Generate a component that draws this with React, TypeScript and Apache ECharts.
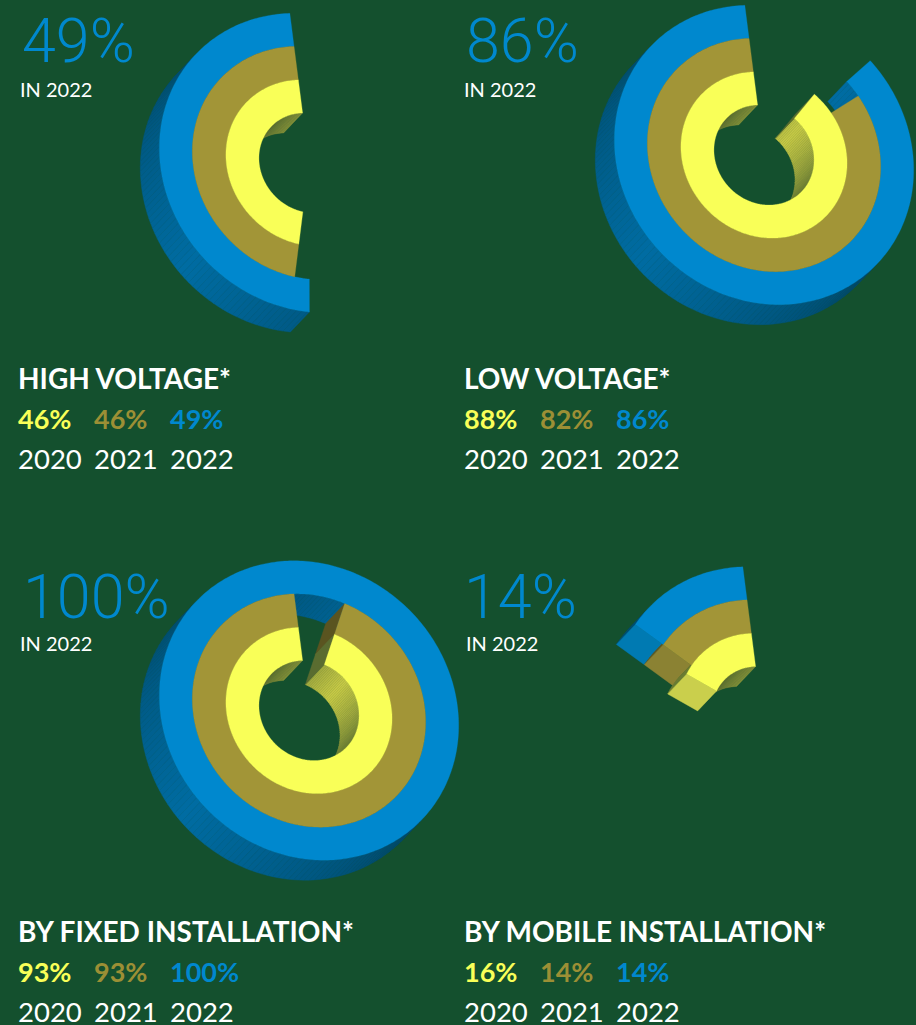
import React, { useEffect, useRef } from "react";
import * as echarts from "echarts";

const years = ["2020", "2021", "2022"];
const titles = ["HIGH VOLTAGE*", "LOW VOLTAGE*", "BY FIXED INSTALLATION*", "BY MOBILE INSTALLATION*"];
const highVoltage = [46, 46, 49];
const lowVoltage = [88, 82, 86];
const fixedInstallation = [93, 93, 100];
const mobileInstallation = [16, 14, 14];
const panelValues = [highVoltage, lowVoltage, fixedInstallation, mobileInstallation];
// Arc lengths as measured in the picture, which differ slightly from the printed labels.
const highVoltageArc = [46, 46, 48];
const lowVoltageArc = [87.6, 83, 85.4];
const fixedInstallationArc = [93, 93, 100];
const mobileInstallationArc = [16, 14, 14];
const panelArcs = [highVoltageArc, lowVoltageArc, fixedInstallationArc, mobileInstallationArc];

const centers = [[309, 163], [764, 155], [309, 710.5], [762, 716.5]];
const bigPos = [[22, 66], [466, 66], [23, 622], [464, 622]];
const inPos = [[20, 97], [464, 97], [20, 651], [466, 651]];
const textLeft = [17, 463, 17, 463];
const rowBase = [0, 0, 553, 553];
const colStep = 76;

const BG = "#14502e";
const YELLOW = "#f9ff58";
const OLIVE = "#a29537";
const BLUE = "#0088ce";
const topColors = [YELLOW, OLIVE, BLUE];
const darkColors = ["#5a6c30", "#5a5420", "#004a6c"];
const midColors = ["#c8ca46", "#857c30", "#006ca2"];
const faceColors = ["#d2d64e", "#8b8233", "#007ab2"];
const radii = [50, 83, 116.5, 149.5];
const START = 4.5;
const SHEAR = 0.05;
const DX = -19;
const DY = 20;
const FONT = "Lato, 'Open Sans', sans-serif";

const rad = (d: number) => (d * Math.PI) / 180;
const hex = (h: string) => [1, 3, 5].map((i) => parseInt(h.slice(i, i + 2), 16));
const mix = (a: string, b: string, t: number) => {
  const x = hex(a);
  const y = hex(b);
  return `rgb(${x.map((v, i) => Math.round(v + (y[i] - v) * t)).join(",")})`;
};
const project = (c: number[], a: number, r: number) => {
  const x = -Math.sin(rad(a)) * r;
  const y = -Math.cos(rad(a)) * r;
  return [c[0] + x + SHEAR * y, c[1] + SHEAR * x + y];
};
const arcAngles = (a0: number, a1: number, step: number) => {
  const out: number[] = [];
  for (let a = a0; a < a1; a += step) out.push(a);
  out.push(a1);
  return out;
};
const facing = (nx: number, ny: number) => {
  const len = Math.hypot(DX, DY);
  return (nx * DX + ny * DY) / len;
};
const shade = (nx: number, ny: number) => {
  const peak = Math.atan2(0.64, -0.77);
  let d = Math.abs(Math.atan2(ny, nx) - peak);
  if (d > Math.PI) d = 2 * Math.PI - d;
  return Math.max(0, 1 - d / (Math.PI / 2));
};

function wallItem(c: number[]) {
  return (_p: any, api: any) => {
    const ring = api.value(0);
    const value = api.value(1);
    const a1 = START + value * 3.6;
    const children: any[] = [];
    const quad = (pts: number[][], fill: string) =>
      children.push({
        type: "polygon",
        silent: true,
        shape: { points: pts },
        style: { fill, stroke: fill, lineWidth: 0.4 },
      });
    const angles = arcAngles(START, a1, 2);
    const strip = (r: number, sign: number) => {
      for (let i = 0; i < angles.length - 1; i++) {
        const m = (angles[i] + angles[i + 1]) / 2;
        const nx = -Math.sin(rad(m)) * sign;
        const ny = -Math.cos(rad(m)) * sign;
        if (facing(nx, ny) <= 0) continue;
        const p = project(c, angles[i], r);
        const q = project(c, angles[i + 1], r);
        quad(
          [p, q, [q[0] + DX, q[1] + DY], [p[0] + DX, p[1] + DY]],
          mix(darkColors[ring], midColors[ring], shade(nx, ny))
        );
      }
    };
    strip(radii[ring + 1], 1);
    strip(radii[ring], -1);
    if (value < 100) {
      const nx = -Math.cos(rad(a1));
      const ny = Math.sin(rad(a1));
      if (facing(nx, ny) > 0) {
        const p = project(c, a1, radii[ring]);
        const q = project(c, a1, radii[ring + 1]);
        const d = Math.abs(Math.atan2(ny, nx) - Math.atan2(0.64, -0.77));
        quad(
          [p, q, [q[0] + DX, q[1] + DY], [p[0] + DX, p[1] + DY]],
          mix(darkColors[ring], faceColors[ring], Math.max(0, 1 - Math.max(0, d - 0.25) / 2.2))
        );
      }
    }
    return { type: "group", children };
  };
}

function topItem(c: number[]) {
  return (_p: any, api: any) => {
    const ring = api.value(0);
    const value = api.value(1);
    const a1 = START + value * 3.6;
    const angles = arcAngles(START, a1, 1);
    const pts = [
      ...angles.map((a) => project(c, a, radii[ring + 1])),
      ...angles.slice().reverse().map((a) => project(c, a, radii[ring])),
    ];
    return {
      type: "polygon",
      silent: true,
      shape: { points: pts },
      style: { fill: topColors[ring], stroke: topColors[ring], lineWidth: 0.3 },
    };
  };
}

function textEl(text: string, x: number, y: number, fill: string, size: number, weight: number, family = FONT) {
  return {
    type: "text",
    x,
    y: y + size * 0.09,
    z: 10,
    silent: true,
    style: { text, fill, fontSize: size, fontWeight: weight, fontFamily: family, verticalAlign: "bottom" },
  };
}

export default function App() {
  const ref = useRef<HTMLDivElement>(null);
  useEffect(() => {
    document.body.style.margin = "0";
    document.body.style.background = BG;
    const chart = echarts.init(ref.current!, undefined, { renderer: "svg" });
    const series: any[] = [];
    const graphic: any[] = [];
    panelValues.forEach((vals, p) => {
      const data = [2, 1, 0].map((i) => [i, panelArcs[p][i]]);
      series.push({
        type: "custom",
        name: titles[p] + " walls",
        coordinateSystem: "none",
        renderItem: wallItem(centers[p]),
        data,
        z: 2,
        silent: true,
      });
      series.push({
        type: "custom",
        name: titles[p],
        coordinateSystem: "none",
        renderItem: topItem(centers[p]),
        data,
        z: 3,
        silent: true,
      });
      graphic.push(textEl(`${vals[2]}%`, bigPos[p][0], bigPos[p][1], BLUE, 61, 300, "Roboto, Lato, sans-serif"));
      graphic.push(textEl("IN 2022", inPos[p][0], inPos[p][1], "#ffffff", 20, 400));
      const shift = rowBase[p];
      graphic.push(textEl(titles[p], textLeft[p] + 1, 389 + shift, "#ffffff", 28, 700));
      years.forEach((y, i) => {
        const x = textLeft[p] + i * colStep;
        graphic.push(textEl(`${vals[i]}%`, x + 1, 430 + shift, topColors[i] === OLIVE ? "#9c8f35" : topColors[i], 27, 700));
        graphic.push(textEl(y, x + 1, 470 + shift, "#ffffff", 27.5, 400));
      });
    });
    chart.setOption({
      animation: false,
      backgroundColor: BG,
      series,
      graphic: { elements: graphic },
    });
    return () => chart.dispose();
  }, []);
  return <div ref={ref} style={{ width: 916, height: 1025 }} />;
}
